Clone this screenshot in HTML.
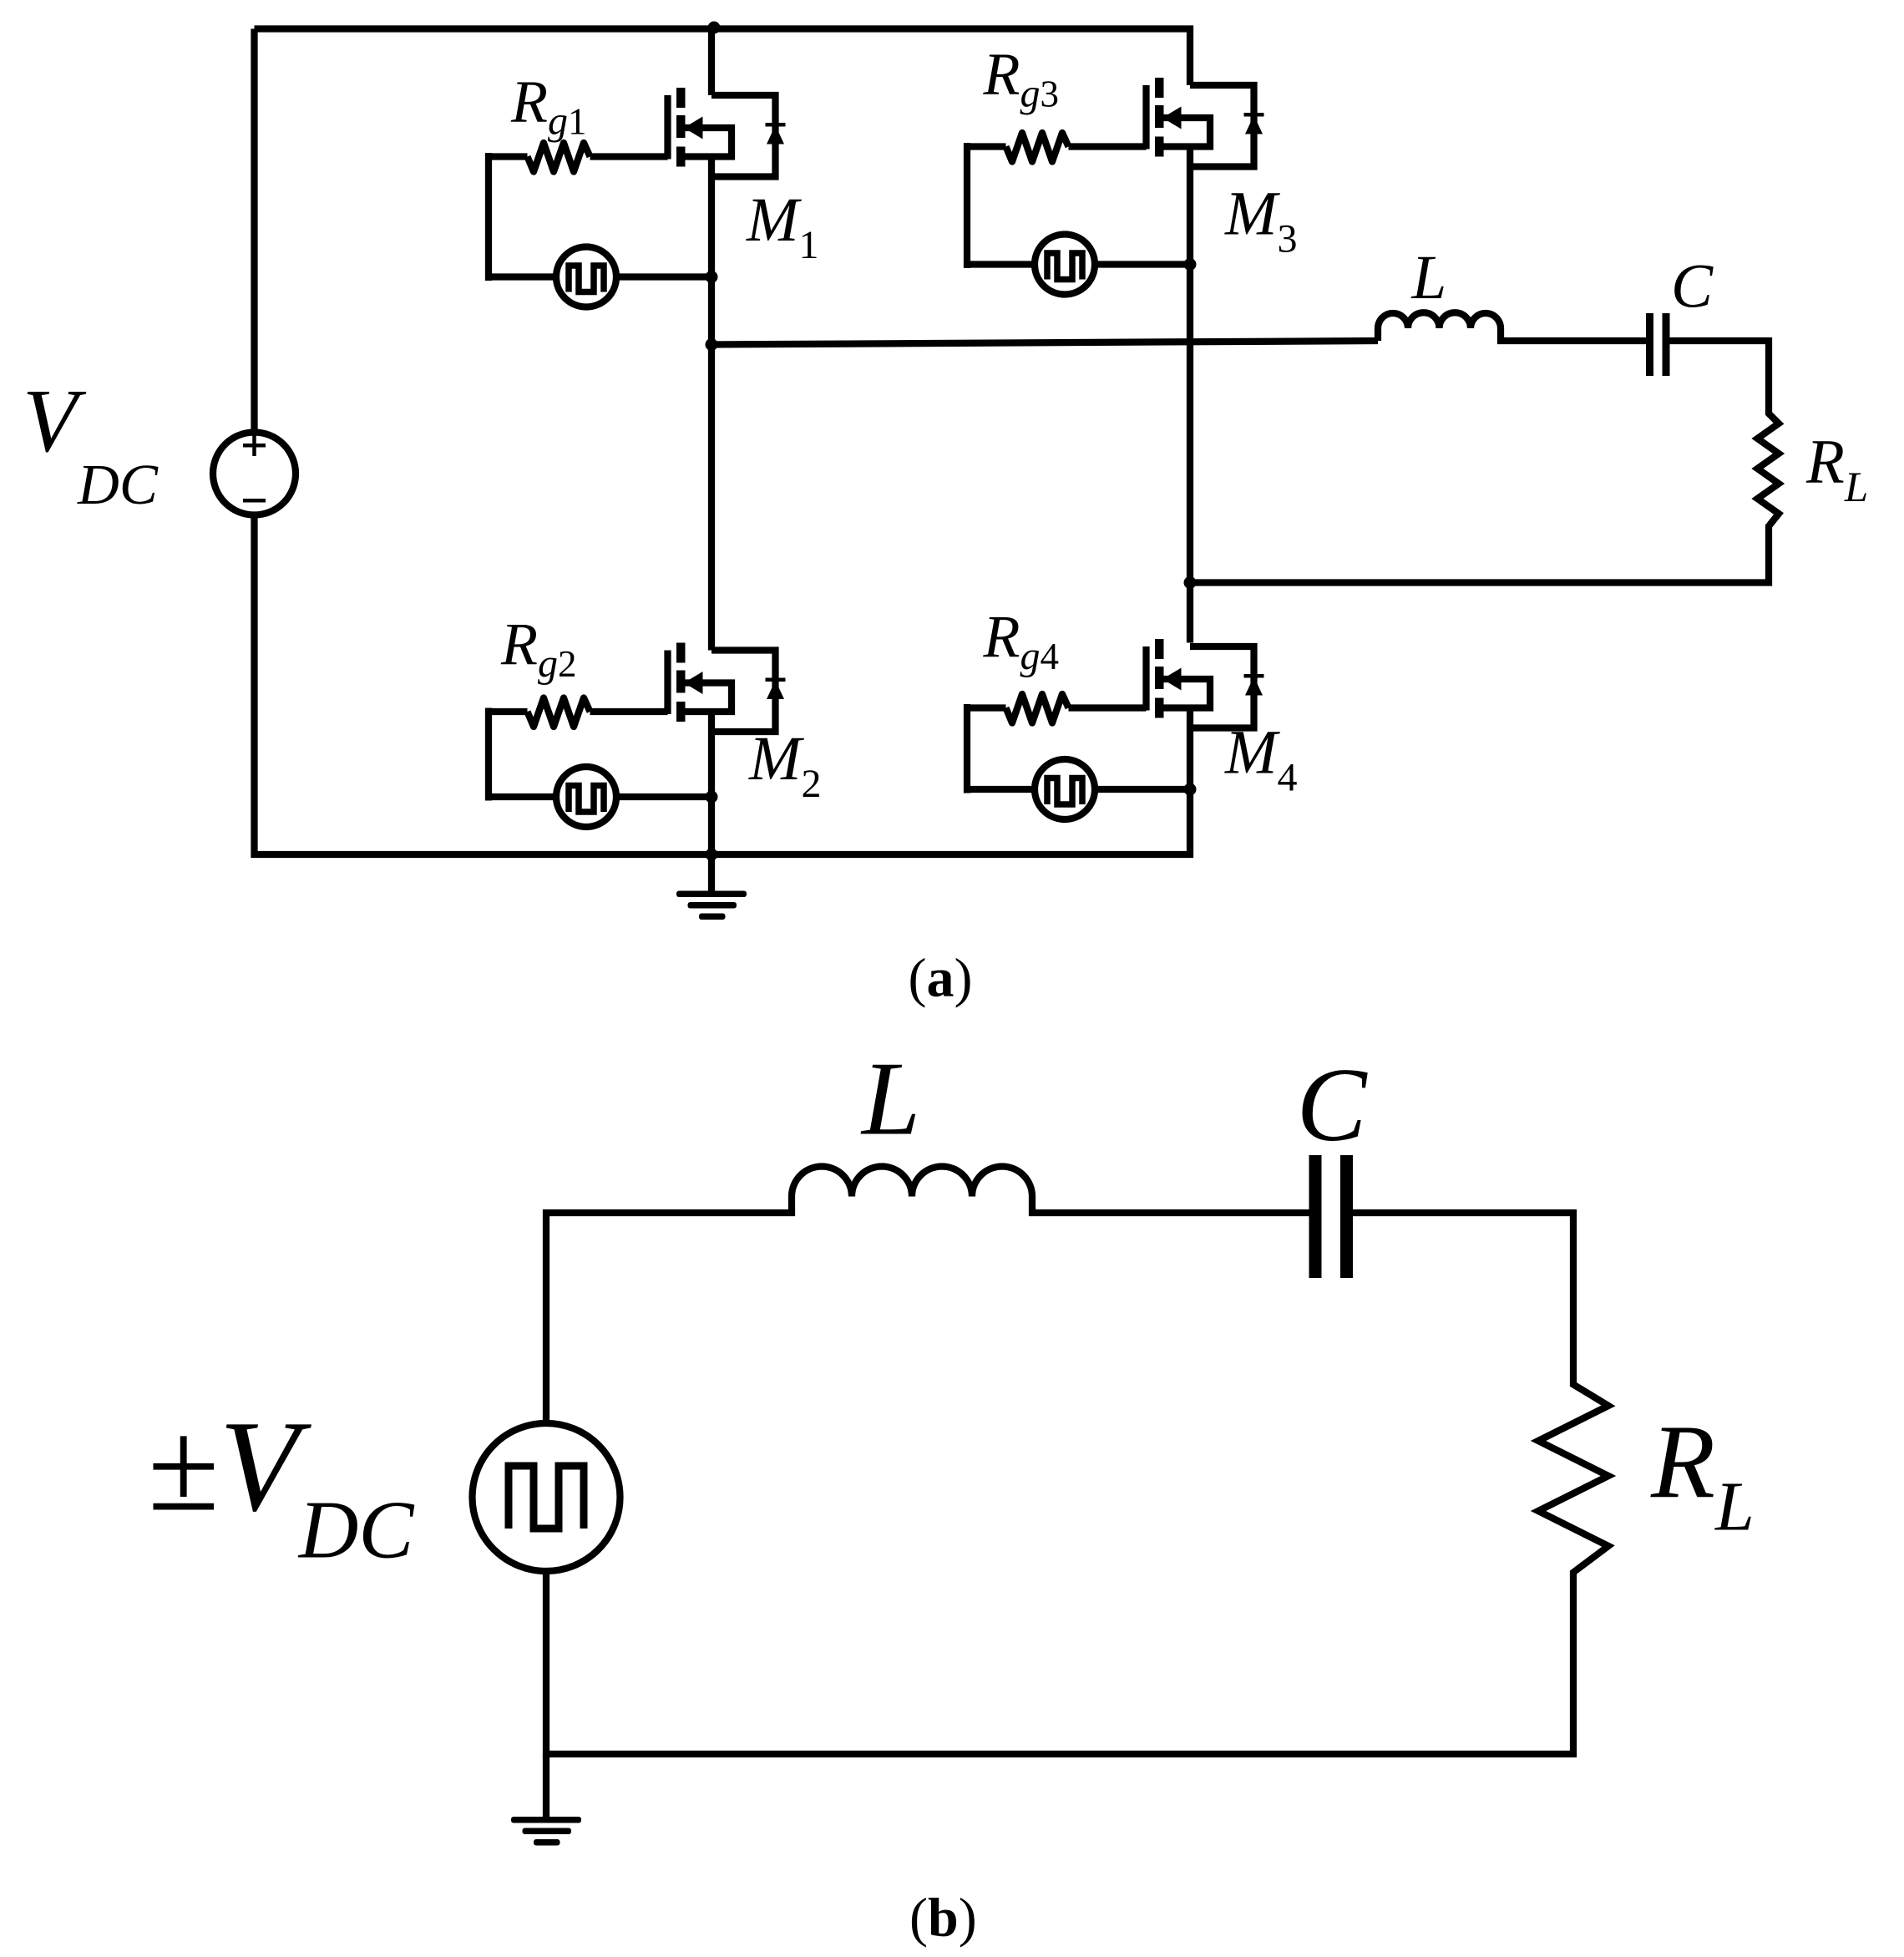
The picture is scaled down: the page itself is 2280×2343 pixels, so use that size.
<!DOCTYPE html>
<html><head><meta charset="utf-8"><style>
html,body{margin:0;padding:0;background:#fff;}
svg{display:block;}
text{font-family:"Liberation Serif",serif;font-style:italic;fill:#000;}
.up{font-style:normal;}
</style></head><body>
<svg width="2280" height="2343" viewBox="0 0 1520 1562" xmlns="http://www.w3.org/2000/svg">
<defs>
<g id="fet">
  <g fill="none" stroke="#000" stroke-width="5.5">
    <path d="M0,76 H51 V141 H0"/>
    <path d="M-25,125 H0"/>
    <path d="M-25,102 H16 V125 H0"/>
    <path d="M-35,76 V127 M-35,125 H-97"/>
    <path d="M-97,125 L-102,114 L-110,137 L-118,114 L-126,137 L-134,114 L-142,137 L-147,125" stroke-linejoin="round"/>
    <path d="M-147,125 H-180"/>
  </g>
  <rect x="-28" y="70" width="7" height="16"/>
  <rect x="-28" y="92" width="7" height="18"/>
  <rect x="-28" y="117" width="7" height="16"/>
  <polygon points="-22,102 -7,93 -7,111"/>
  <polygon points="51,100 44,115 58,115"/>
  <rect x="43" y="98" width="16" height="3"/>
</g>
<g id="loop">
  <g fill="none" stroke="#000" stroke-width="5.5">
    <circle cx="-100" cy="0" r="24"/>
    <path d="M-76,0 H0 M-124,0 H-180"/>
    <path d="M-114,12 V-9 H-106 V12 H-94 V-9 H-86 V12" stroke-width="5"/>
  </g>
  <circle cx="0" cy="0" r="5"/>
</g>
</defs>

<g fill="none" stroke="#000" stroke-width="5.5">
  <path d="M203,23 H950 V68"/>
  <path d="M203,23 V345 M203,411 V682 H950 V565"/>
  <path d="M568,23 V76 M568,125 V519 M568,568 V682"/>
  <path d="M950,117 V513"/>
  <circle cx="203" cy="378" r="33"/>
  <path d="M568,275 L1100,272"/>
  <path d="M1100,272 V262 A12,12 0 0 1 1124,262 A12,12 0 0 1 1149,262 A12,12 0 0 1 1174,262 A12,12 0 0 1 1198,262 V272 H1317"/>
  <path d="M1330,272 H1412 V330 L1420,338 L1403,350 L1420,362 L1403,374 L1420,386 L1403,398 L1420,410 L1412,420 V465 H950"/>
  <path d="M568,682 V712"/>
  <path d="M436,1135 V968 H632 V955 A24,24 0 0 1 680,955 A24,24 0 0 1 728,955 A24,24 0 0 1 776,955 A24,24 0 0 1 824,955 V968 H1050"/>
  <path d="M1075,968 H1256 V1105 L1284,1122 L1228,1150 L1284,1178 L1228,1206 L1284,1234 L1256,1255 V1400 H436 V1255"/>
  <path d="M436,1400 V1452"/>
  <circle cx="436" cy="1195" r="59"/>
  <path d="M406,1220 V1170 H426 V1220 H446 V1170 H466 V1220" stroke-width="6"/>
</g>
<rect x="194" y="354" width="18" height="3"/><rect x="201.5" y="347" width="3" height="17"/>
<rect x="194" y="398" width="18" height="3"/>
<rect x="1314" y="250" width="6" height="50"/><rect x="1327" y="250" width="6" height="50"/>
<rect x="1045" y="922" width="10" height="98"/><rect x="1070" y="922" width="10" height="98"/>
<rect x="540" y="711" width="56" height="5" rx="2"/><rect x="549" y="720" width="39" height="5" rx="2"/><rect x="558" y="729" width="21" height="5" rx="2"/>
<rect x="408" y="1450" width="56" height="5" rx="2"/><rect x="417" y="1459" width="39" height="5" rx="2"/><rect x="426" y="1468" width="21" height="5" rx="2"/>
<circle cx="570" cy="22" r="5"/><circle cx="568" cy="275" r="5"/><circle cx="568" cy="682" r="5"/><circle cx="950" cy="465" r="5"/>

<use href="#fet" transform="translate(568,0)"/>
<use href="#fet" transform="translate(950,-8)"/>
<use href="#fet" transform="translate(568,443)"/>
<use href="#fet" transform="translate(950,440)"/>
<use href="#loop" transform="translate(568,221)"/>
<use href="#loop" transform="translate(950,211)"/>
<use href="#loop" transform="translate(568,636)"/>
<use href="#loop" transform="translate(950,630)"/>
<g fill="none" stroke="#000" stroke-width="5.5">
  <path d="M390,122 V224 M772,114 V214 M390,565 V639 M772,562 V633"/>
</g>

<text x="408" y="97" font-size="48">R<tspan font-size="32" dy="10">g</tspan><tspan class="up" font-size="30">1</tspan></text>
<text x="785" y="75" font-size="48">R<tspan font-size="32" dy="10">g</tspan><tspan class="up" font-size="30">3</tspan></text>
<text x="400" y="530" font-size="48">R<tspan font-size="32" dy="10">g</tspan><tspan class="up" font-size="30">2</tspan></text>
<text x="785" y="524" font-size="48">R<tspan font-size="32" dy="10">g</tspan><tspan class="up" font-size="30">4</tspan></text>
<text x="596" y="192" font-size="50">M<tspan class="up" font-size="32" dy="14">1</tspan></text>
<text x="978" y="187" font-size="50">M<tspan class="up" font-size="32" dy="14">3</tspan></text>
<text x="598" y="622" font-size="50">M<tspan class="up" font-size="32" dy="14">2</tspan></text>
<text x="978" y="617" font-size="50">M<tspan class="up" font-size="32" dy="14">4</tspan></text>
<text x="18" y="360" font-size="72">V<tspan font-size="46" dy="42">DC</tspan></text>
<text x="1127" y="238" font-size="50">L</text>
<text x="1334" y="245" font-size="50">C</text>
<text x="1442" y="385" font-size="50">R<tspan font-size="34" dy="15">L</tspan></text>
<text class="up" x="725" y="795" font-size="44">(<tspan font-weight="bold">a</tspan>)</text>
<text x="118" y="1205" font-size="104"><tspan class="up">±</tspan>V<tspan font-size="66" dy="38">DC</tspan></text>
<text x="688" y="905" font-size="84">L</text>
<text x="1035" y="910" font-size="84">C</text>
<text x="1318" y="1195" font-size="84">R<tspan font-size="56" dy="26">L</tspan></text>
<text class="up" x="726" y="1545" font-size="44">(<tspan font-weight="bold">b</tspan>)</text>
</svg>
</body></html>
